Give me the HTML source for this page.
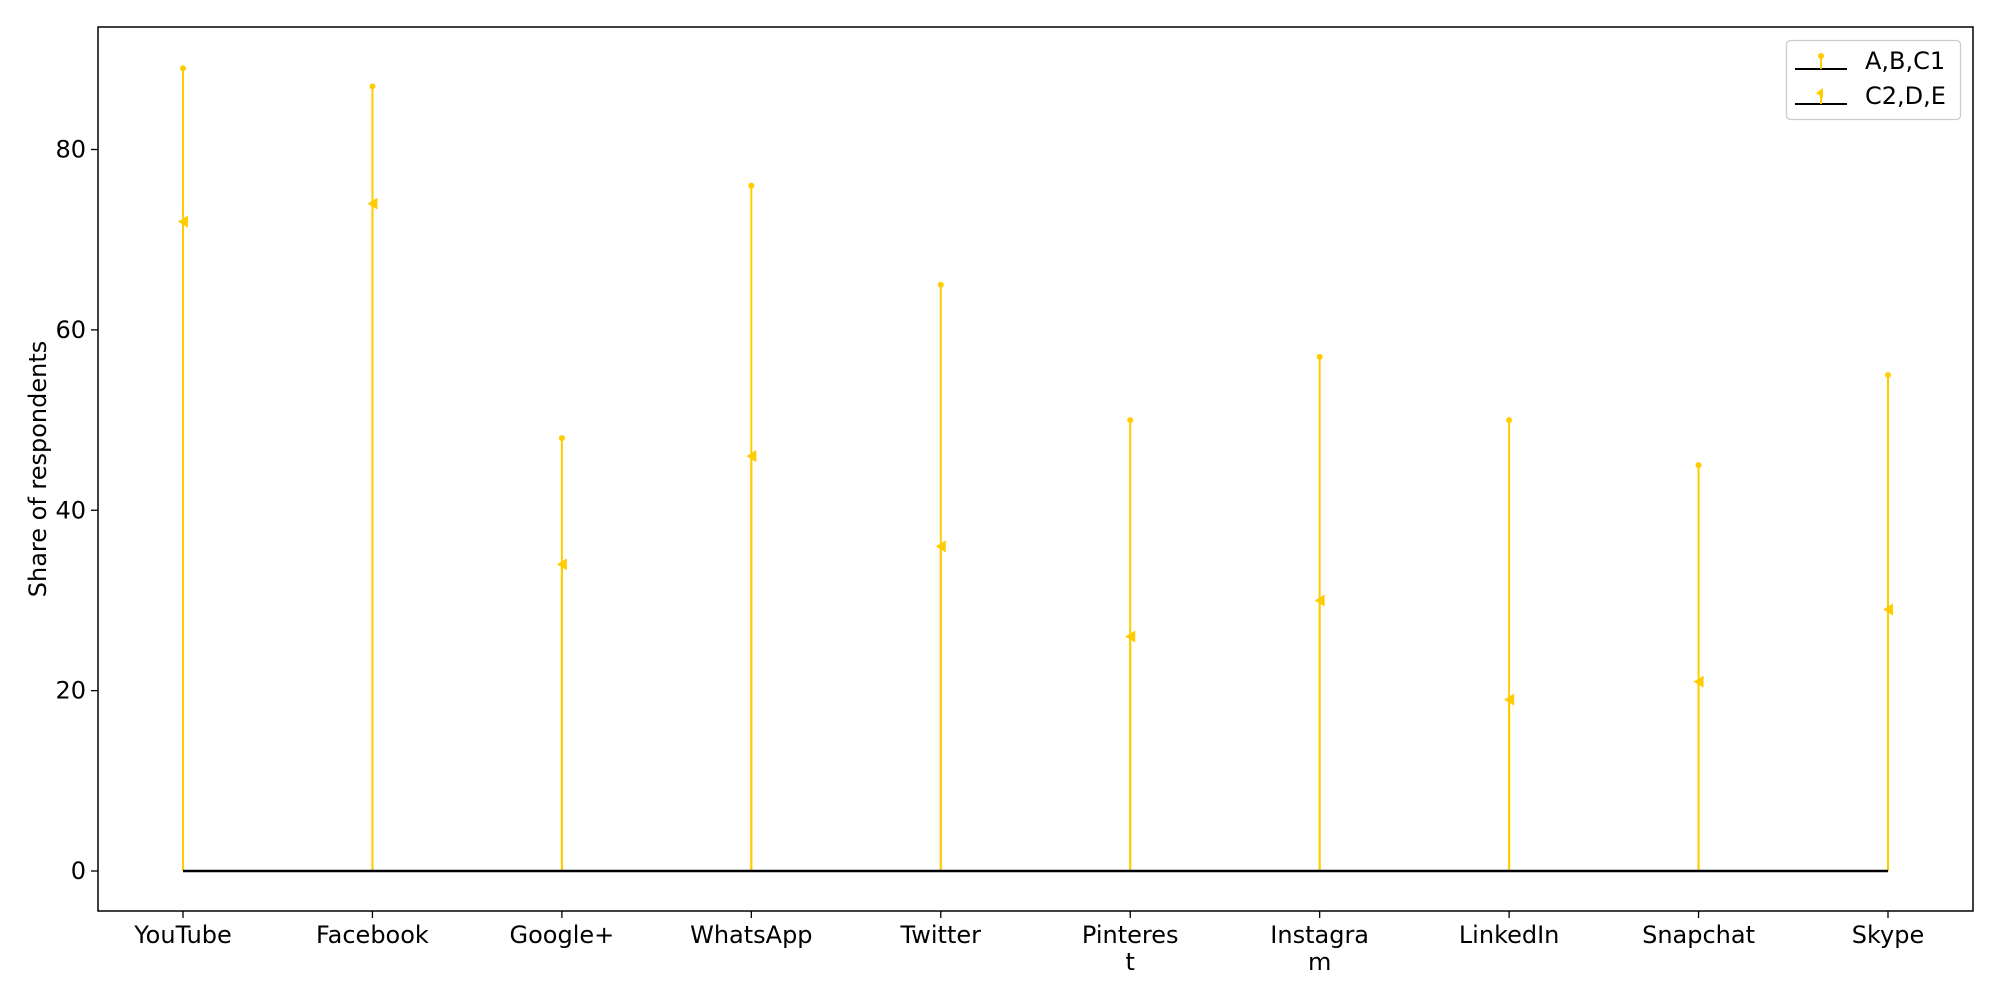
<!DOCTYPE html>
<html><head><meta charset="utf-8"><style>
html,body{margin:0;padding:0;background:#fff;}
svg{display:block;font-family:"DejaVu Sans","Liberation Sans",sans-serif;}
</style></head><body>
<svg id="chart" width="2000" height="1000" viewBox="0 0 2000 1000">
<rect x="98" y="27" width="1875" height="884" fill="none" stroke="#000" stroke-width="1.5"/>
<g id="yaxis"></g>
<g id="xaxis"></g>
<g id="marks"></g>
<text x="46" y="469" font-size="24" text-anchor="middle" transform="rotate(-90 46 469)">Share of respondents</text>
<g>
<rect x="1786.5" y="40.5" width="174" height="79" rx="4" fill="#fff" stroke="#ccc" stroke-width="1.3"/>
<g>
<line x1="1795" y1="69" x2="1847" y2="69" stroke="#000" stroke-width="2"/>
<line x1="1821" y1="69" x2="1821" y2="56" stroke="#FFCC00" stroke-width="2"/>
<circle cx="1821" cy="56" r="3" fill="#FFCC00"/>
<text x="1865" y="69" font-size="24">A,B,C1</text>
</g>
<g>
<line x1="1795" y1="104" x2="1847" y2="104" stroke="#000" stroke-width="2"/>
<line x1="1821" y1="104" x2="1821" y2="93" stroke="#FFCC00" stroke-width="2"/>
<polygon points="1816,93 1823,88 1823,98" fill="#FFCC00"/>
<text x="1865" y="104" font-size="24">C2,D,E</text>
</g>
</g>
</svg>
<script>
const categories=["YouTube","Facebook","Google+","WhatsApp","Twitter","Pinteres\nt","Instagra\nm","LinkedIn","Snapchat","Skype"];
const abc1=[89,87,48,76,65,50,57,50,45,55];
const c2de=[72,74,34,46,36,26,30,19,21,29];
const yTicks=[0,20,40,60,80];
const NS="http://www.w3.org/2000/svg";
const X0=183,X1=1888,Y0=871,YPER=(871-149.5)/80;
function xs(i){return X0+i*(X1-X0)/(categories.length-1);}
function ys(v){return Y0-v*YPER;}
function mk(tag,attrs,parent){const e=document.createElementNS(NS,tag);for(const k in attrs)e.setAttribute(k,attrs[k]);parent.appendChild(e);return e;}
const ya=document.getElementById('yaxis'),xa=document.getElementById('xaxis'),mg=document.getElementById('marks');
yTicks.forEach(t=>{
 const g=mk('g',{},ya);
 
 
 mk('line',{x1:91,x2:98,y1:ys(t),y2:ys(t),stroke:'#000','stroke-width':1.3},g);
 const tx=mk('text',{x:86,y:ys(t)+8,'font-size':24,'text-anchor':'end'},g);tx.textContent=t;
});
categories.forEach((c,i)=>{
 const g=mk('g',{},xa);
 
 
 mk('line',{x1:xs(i),x2:xs(i),y1:911,y2:918,stroke:'#000','stroke-width':1.3},g);
 c.split("\n").forEach((ln,j)=>{const tx=mk('text',{x:xs(i),y:943+j*27,'font-size':24,'text-anchor':'middle'},g);tx.textContent=ln;});
});
categories.forEach((c,i)=>{
 const g=mk('g',{},mg);
 
 
 mk('line',{x1:xs(i),x2:xs(i),y1:ys(0),y2:ys(abc1[i]),stroke:'#FFCC00','stroke-width':2},g);
 mk('line',{x1:xs(i),x2:xs(i),y1:ys(0),y2:ys(c2de[i]),stroke:'#FFCC00','stroke-width':2},g);
 const p=mk('circle',{cx:xs(i),cy:ys(abc1[i]),r:3,fill:'#FFCC00'},g);
 
 
 const x=xs(i),y=ys(c2de[i]);
 const tri=mk('polygon',{points:`${x-5},${y} ${x+5},${y-6} ${x+5},${y+6}`,fill:'#FFCC00'},g);
 
 
});
const base=mk('line',{x1:X0,x2:X1,y1:ys(0),y2:ys(0),stroke:'#000','stroke-width':2.5},mg);


</script>
</body></html>
